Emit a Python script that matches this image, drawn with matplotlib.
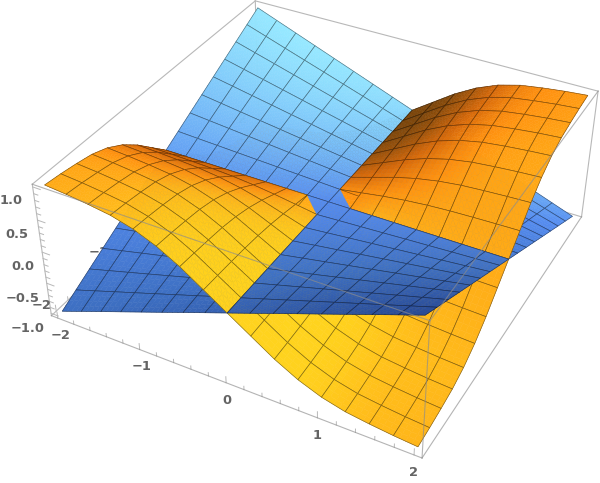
import numpy as np
import matplotlib
matplotlib.use('Agg')
import matplotlib.pyplot as plt
from mpl_toolkits.mplot3d import proj3d
from mpl_toolkits.mplot3d.art3d import Poly3DCollection, Line3DCollection

#==============================================================================
#DATA
#==============================================================================

grid = [-2, -1.75, -1.5, -1.25, -1, -0.75, -0.5, -0.25, 0, 0.25, 0.5, 0.75, 1, 1.25, 1.5, 1.75, 2]

#rows run along y from -2 to 2, columns along x from -2 to 2
blue_z = [
 [-1, -.875, -.75, -.625, -.5, -.375, -.25, -.125, 0, .125, .25, .375, .5, .625, .75, .875, 1],
 [-.875, -.766, -.656, -.547, -.438, -.328, -.219, -.109, 0, .109, .219, .328, .438, .547, .656, .766, .875],
 [-.75, -.656, -.563, -.469, -.375, -.281, -.188, -.094, 0, .094, .188, .281, .375, .469, .563, .656, .75],
 [-.625, -.547, -.469, -.391, -.313, -.234, -.156, -.078, 0, .078, .156, .234, .313, .391, .469, .547, .625],
 [-.5, -.438, -.375, -.313, -.25, -.188, -.125, -.063, 0, .063, .125, .188, .25, .313, .375, .438, .5],
 [-.375, -.328, -.281, -.234, -.188, -.141, -.094, -.047, 0, .047, .094, .141, .188, .234, .281, .328, .375],
 [-.25, -.219, -.188, -.156, -.125, -.094, -.063, -.031, 0, .031, .063, .094, .125, .156, .188, .219, .25],
 [-.125, -.109, -.094, -.078, -.063, -.047, -.031, -.016, 0, .016, .031, .047, .063, .078, .094, .109, .125],
 [0, 0, 0, 0, 0, 0, 0, 0, 0, 0, 0, 0, 0, 0, 0, 0, 0],
 [.125, .109, .094, .078, .063, .047, .031, .016, 0, -.016, -.031, -.047, -.063, -.078, -.094, -.109, -.125],
 [.25, .219, .188, .156, .125, .094, .063, .031, 0, -.031, -.063, -.094, -.125, -.156, -.188, -.219, -.25],
 [.375, .328, .281, .234, .188, .141, .094, .047, 0, -.047, -.094, -.141, -.188, -.234, -.281, -.328, -.375],
 [.5, .438, .375, .313, .25, .188, .125, .063, 0, -.063, -.125, -.188, -.25, -.313, -.375, -.438, -.5],
 [.625, .547, .469, .391, .313, .234, .156, .078, 0, -.078, -.156, -.234, -.313, -.391, -.469, -.547, -.625],
 [.75, .656, .563, .469, .375, .281, .188, .094, 0, -.094, -.188, -.281, -.375, -.469, -.563, -.656, -.75],
 [.875, .766, .656, .547, .438, .328, .219, .109, 0, -.109, -.219, -.328, -.438, -.547, -.656, -.766, -.875],
 [1, .875, .75, .625, .5, .375, .25, .125, 0, -.125, -.25, -.375, -.5, -.625, -.75, -.875, -1],
]

orange_z = [
 [1, .97, .93, .88, .79, .65, .46, .23, 0, -.23, -.46, -.65, -.79, -.88, -.93, -.97, -1],
 [.97, .941, .902, .854, .766, .631, .446, .223, 0, -.223, -.446, -.631, -.766, -.854, -.902, -.941, -.97],
 [.93, .902, .865, .818, .735, .605, .428, .214, 0, -.214, -.428, -.605, -.735, -.818, -.865, -.902, -.93],
 [.88, .854, .818, .774, .695, .572, .405, .202, 0, -.202, -.405, -.572, -.695, -.774, -.818, -.854, -.88],
 [.79, .766, .735, .695, .624, .514, .363, .182, 0, -.182, -.363, -.514, -.624, -.695, -.735, -.766, -.79],
 [.65, .631, .605, .572, .514, .423, .299, .150, 0, -.150, -.299, -.423, -.514, -.572, -.605, -.631, -.65],
 [.46, .446, .428, .405, .363, .299, .212, .106, 0, -.106, -.212, -.299, -.363, -.405, -.428, -.446, -.46],
 [.23, .223, .214, .202, .182, .150, .106, .053, 0, -.053, -.106, -.150, -.182, -.202, -.214, -.223, -.23],
 [0, 0, 0, 0, 0, 0, 0, 0, -.069, 0, 0, 0, 0, 0, 0, 0, 0],
 [-.23, -.223, -.214, -.202, -.182, -.150, -.106, -.053, 0, .053, .106, .150, .182, .202, .214, .223, .23],
 [-.46, -.446, -.428, -.405, -.363, -.299, -.212, -.106, 0, .106, .212, .299, .363, .405, .428, .446, .46],
 [-.65, -.631, -.605, -.572, -.514, -.423, -.299, -.150, 0, .150, .299, .423, .514, .572, .605, .631, .65],
 [-.79, -.766, -.735, -.695, -.624, -.514, -.363, -.182, 0, .182, .363, .514, .624, .695, .735, .766, .79],
 [-.88, -.854, -.818, -.774, -.695, -.572, -.405, -.202, 0, .202, .405, .572, .695, .774, .818, .854, .88],
 [-.93, -.902, -.865, -.818, -.735, -.605, -.428, -.214, 0, .214, .428, .605, .735, .818, .865, .902, .93],
 [-.97, -.941, -.902, -.854, -.766, -.631, -.446, -.223, 0, .223, .446, .631, .766, .854, .902, .941, .97],
 [-1, -.97, -.93, -.88, -.79, -.65, -.46, -.23, 0, .23, .46, .65, .79, .88, .93, .97, 1],
]

x_ticks = [-2, -1, 0, 1, 2]
y_ticks = [-2, -1, 0, 1, 2]
z_ticks = [-1.0, -0.5, 0.0, 0.5, 1.0]
x_minor = [-1.8, -1.6, -1.4, -1.2, -.8, -.6, -.4, -.2, .2, .4, .6, .8, 1.2, 1.4, 1.6, 1.8]
z_minor = [-.9, -.8, -.7, -.6, -.4, -.3, -.2, -.1, .1, .2, .3, .4, .6, .7, .8, .9]

#==============================================================================
#SETTINGS
#==============================================================================

XB = 2.08
ZB = 1.04
SUB = 4

light = np.array([0.7, -0.3, 0.65])

blue_ramp = ([0.12, 0.37, 0.65, 0.94],
             [(38, 72, 150), (62, 112, 195), (85, 140, 240), (150, 232, 255)])
orange_ramp = ([0.03, 0.33, 0.55, 0.72, 0.97],
               [(125, 70, 10), (215, 105, 10), (255, 145, 15), (255, 178, 25), (255, 213, 30)])

box_c = '0.72'
label_c = '#646464'

#==============================================================================
#FUNCTIONS
#==============================================================================

def fine(a, g, gf):
    a = np.array([np.interp(gf, g, row) for row in a])
    return np.array([np.interp(gf, g, col) for col in a.T]).T

def shade(z, g, gf, ramp):
    dzdy, dzdx = np.gradient(z, g, g, edge_order=2)
    norm = np.sqrt(dzdx**2 + dzdy**2 + 1)
    s = (-dzdx*light[0] - dzdy*light[1] + light[2])/norm
    stops, cols = ramp
    cols = np.array(cols)/255
    sf = fine(s, g, gf)
    return np.dstack([np.interp(sf, stops, cols[:, k]) for k in range(3)])

#==============================================================================
#PLOTTING
#==============================================================================

fig = plt.figure(figsize=(6, 4.83), dpi=100)
side = 574.9
ax = fig.add_axes([33.37/600, -14.05/483, side/600, side/483], projection='3d', computed_zorder=False)
ax.set_axis_off()
ax.set_xlim(-XB, XB); ax.set_ylim(-XB, XB); ax.set_zlim(-ZB, ZB)
ax.set_box_aspect((1, 1, 0.394))
ax.view_init(36.091, -61.871, -0.159)
ax.set_proj_type('persp', focal_length=0.463)

g = np.array(grid, float)
gf = np.linspace(-2, 2, (len(g)-1)*SUB+1)
xf, yf = np.meshgrid(gf, gf)
surfaces = []
for table, ramp in ((blue_z, blue_ramp), (orange_z, orange_ramp)):
    z = np.array(table, float)
    surfaces.append((fine(z, g, gf), shade(z, g, gf, ramp)))

#camera position, for back to front ordering of the grid cells
M = ax.get_proj()
eye = np.linalg.svd(M[[0, 1, 3]])[2][-1]
eye = eye[:3]/eye[3]

def add_cell(zf, col, i, j, other, order):
    verts, fc = [], []
    for a in range(SUB):
        for b in range(SUB):
            r, c = j*SUB+a, i*SUB+b
            quad = [(r, c), (r, c+1), (r+1, c+1), (r+1, c)]
            parts = [quad]
            if other is not None:
                #only the parts of this surface that lie above the other one
                parts = [t for t in ([(r, c), (r, c+1), (r+1, c)], [(r+1, c+1), (r, c+1), (r+1, c)])
                         if np.mean([zf[q]-other[q] for q in t]) > 1e-6]
            for ids in parts:
                verts.append([(xf[q], yf[q], zf[q]) for q in ids])
                fc.append(np.mean([col[q] for q in ids], axis=0))
    if verts:
        pc = Poly3DCollection(verts, facecolors=fc, edgecolors=fc, linewidths=0.35, clip_on=False)
        pc.set_zorder(order)
        ax.add_collection3d(pc, autolim=False)
    r0, c0 = j*SUB, i*SUB
    rr = np.arange(r0, r0+SUB+1); cc = np.arange(c0, c0+SUB+1)
    lines = []
    for path in ([(r0, c) for c in cc], [(r0+SUB, c) for c in cc], [(r, c0) for r in rr], [(r, c0+SUB) for r in rr]):
        lines.append([(xf[q], yf[q], zf[q]) for q in path])
    lc = Line3DCollection(lines, colors=[(0, 0, 0, 0.5)], linewidths=0.45, clip_on=False)
    lc.set_zorder(order+0.5)
    ax.add_collection3d(lc, autolim=False)

def label(x, y, z, s, **kw):
    tx, ty, _ = proj3d.proj_transform(x, y, z, M)
    ax.text2D(tx, ty, s.replace('-', '\u2212'), transform=ax.transData, va='center',
              color=label_c, fontsize=9.4, fontweight='bold', family='DejaVu Sans', zorder=2, **kw)

#box edges behind the surfaces
for p, q in [((-XB, -XB, ZB), (-XB, XB, ZB)), ((-XB, XB, ZB), (XB, XB, ZB)),
             ((-XB, -XB, -ZB), (-XB, -XB, ZB)), ((XB, XB, -ZB), (XB, XB, ZB)),
             ((-XB, XB, -ZB), (-XB, XB, ZB)), ((-XB, -XB, -ZB), (-XB, XB, -ZB)),
             ((-XB, XB, -ZB), (XB, XB, -ZB))]:
    ax.plot(*zip(p, q), color=box_c, lw=0.8, zorder=1, clip_on=False)

#ticks and labels
for v in x_ticks + x_minor:
    h = 0.1 if v in x_ticks else 0.055
    ax.plot([v, v], [-XB, -XB], [-ZB, -ZB+h], color=box_c, lw=0.7, zorder=1, clip_on=False)
for v in y_ticks + x_minor:
    h = 0.1 if v in y_ticks else 0.055
    ax.plot([-XB, -XB], [v, v], [-ZB, -ZB+h], color=box_c, lw=0.7, zorder=1, clip_on=False)
for v in z_ticks + z_minor:
    h = 0.09 if v in z_ticks else 0.05
    ax.plot([-XB, -XB+h], [-XB, -XB], [v, v], color=box_c, lw=0.7, zorder=1, clip_on=False)

for v in x_ticks:
    label(v, -XB, -ZB-0.29, str(v), ha='center')
for v in y_ticks:
    label(-XB-0.19, v, -ZB, str(v), ha='center')
for v in z_ticks:
    label(-XB+0.07-0.015*v, -XB-0.22, v, '%.1f' % v, ha='right')

#grid cells, far ones first and in each cell the lower surface first
n = len(g)-1
cells = [(i, j) for i in range(n) for j in range(n)]
def far(cell):
    cx = (g[cell[0]]+g[cell[0]+1])/2
    cy = (g[cell[1]]+g[cell[1]+1])/2
    return -np.hypot(cx-eye[0], cy-eye[1])
cells.sort(key=far)

def cell_mean(zf, i, j):
    return zf[j*SUB:(j+1)*SUB+1, i*SUB:(i+1)*SUB+1].mean()

order = 10
for i, j in cells:
    if cell_mean(surfaces[0][0], i, j) < cell_mean(surfaces[1][0], i, j):
        low, up = surfaces[0], surfaces[1]
    else:
        low, up = surfaces[1], surfaces[0]
    add_cell(low[0], low[1], i, j, None, order)
    add_cell(up[0], up[1], i, j, low[0], order+1)
    order += 2

#box edges in front of the surfaces
for p, q in [((-XB, -XB, ZB), (XB, -XB, ZB)), ((XB, -XB, ZB), (XB, XB, ZB)),
             ((XB, -XB, -ZB), (XB, -XB, ZB)), ((-XB, -XB, -ZB), (XB, -XB, -ZB)),
             ((XB, -XB, -ZB), (XB, XB, -ZB))]:
    ax.plot(*zip(p, q), color='0.55', alpha=0.65, lw=0.8, zorder=order+1, clip_on=False)

ax.set_xlim(-XB, XB); ax.set_ylim(-XB, XB); ax.set_zlim(-ZB, ZB)
fig.savefig('out.png', dpi=100)
